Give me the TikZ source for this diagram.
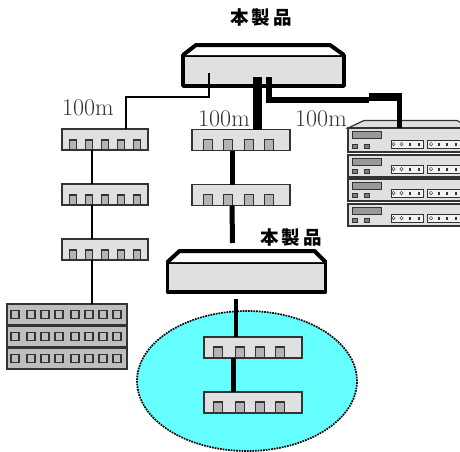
\documentclass[tikz,border=0pt]{standalone}
\usepackage{fontspec}
\usepackage{xcolor}
\usetikzlibrary{shapes.geometric, positioning}
\newfontfamily\cjk[LetterSpace=17]{Noto Sans CJK JP}
\definecolor{boxgray}{HTML}{E0E0E0}
\definecolor{portgray}{HTML}{B4B4B4}
\definecolor{rackgray}{HTML}{BEBEBE}
\definecolor{edgegray}{HTML}{333333}
\definecolor{langreen}{HTML}{66FFFF}

\begin{document}
\begin{tikzpicture}[
    x=1pt, y=-1pt,
    switchbox/.style={rectangle, draw=black, fill=boxgray, line width=3.5pt, line join=round, minimum width=158pt, minimum height=30pt, inner sep=0pt, outer sep=0pt},
    roof/.style={line width=4pt, line join=round, fill=white},
    hubwide/.style={rectangle, draw=edgegray, fill=boxgray, line width=1.2pt, minimum width=98pt, minimum height=21pt, inner sep=0pt, outer sep=0pt},
    hubslim/.style={hubwide, minimum width=86pt},
    portbox/.style={rectangle, draw=edgegray, fill=portgray, line width=1.2pt, minimum width=9.5pt, minimum height=11pt, inner sep=0pt, outer sep=0pt, anchor=south},
    portslim/.style={portbox, minimum width=7pt, minimum height=10pt},
    rackrow/.style={rectangle, draw=edgegray, fill=rackgray, line width=1.2pt, minimum width=120pt, minimum height=21pt, inner sep=0pt, outer sep=0pt},
    racksquare/.style={rectangle, draw=edgegray, fill=rackgray, line width=1.2pt, minimum width=8pt, minimum height=8pt, inner sep=0pt},
    serverrow/.style={rectangle, draw=edgegray, fill=boxgray, line width=1.2pt, minimum width=122pt, inner sep=0pt, outer sep=0pt},
    display/.style={rectangle, draw=edgegray, fill=gray!80, line width=1pt, minimum width=29pt, minimum height=7pt, inner sep=0pt},
    lamp/.style={rectangle, draw=edgegray, fill=gray, line width=.8pt, minimum width=5pt, minimum height=4pt, inner sep=0pt},
    panel/.style={rectangle, draw=edgegray, fill=white!90!gray, line width=1pt, minimum width=32pt, minimum height=8pt, inner sep=0pt},
    panelpin/.style={rectangle, fill=edgegray, minimum width=2pt, minimum height=3pt, inner sep=0pt},
    panelopen/.style={diamond, draw=edgegray, fill=white, line width=.5pt, minimum width=3.5pt, minimum height=3.5pt, inner sep=0pt},
    thinline/.style={line width=1.3pt, black},
    fatline/.style={line width=5pt, black},
    dist/.style={text=edgegray, font=\fontsize{24}{24}\selectfont, inner sep=0pt, anchor=base west},
    product/.style={font=\cjk\bfseries\fontsize{18.5}{18.5}\selectfont, inner sep=0pt}
]
\clip (0,0) rectangle (460,451);

% lan area
\node[ellipse, draw=black, fill=langreen, densely dotted, line width=1.7pt, minimum width=220pt, minimum height=140pt, inner sep=0pt] (lan) at (247,381) {};

% main units
\node[switchbox, minimum width=161pt, minimum height=31pt] (bigtop) at (263.5,70.5) {};
\draw[roof] (bigtop.north west) -- ++(13,-10) -- ++(134,0) -- (bigtop.north east);
\node[switchbox] (bigbot) at (246.5,277) {};
\draw[roof] (bigbot.north west) -- ++(12,-11) -- ++(135,0) -- (bigbot.north east);

\node[product] (nametop) at (261,17.5) {本製品};
\node[product] (namebot) at (291,237.5) {本製品};

% hubs
\node[hubslim, anchor=north west] (hubla) at (62,129) {};
\node[hubslim, below=34pt of hubla] (hublb) {};
\node[hubslim, below=34pt of hublb] (hublc) {};
\node[hubwide, anchor=north west] (hubma) at (192,129.5) {};
\node[hubwide, below=34pt of hubma] (hubmb) {};
\node[hubwide, anchor=north west] (hubba) at (204,337) {};
\node[hubwide, below=34pt of hubba] (hubbb) {};
\foreach \h in {hubla,hublb,hublc}
    \foreach \i/\dx in {1/11,2/27,3/43,4/59,5/75}
        \node[portslim] (\h-\i) at ([xshift=\dx pt]\h.south west) {};
\foreach \h in {hubma,hubmb}
    \foreach \i/\dx in {1/16,2/36,3/57,4/77}
        \node[portbox] (\h-\i) at ([xshift=\dx pt]\h.south west) {};
\foreach \h in {hubba,hubbb}
    \foreach \i/\dx in {1/14,2/36,3/56,4/76}
        \node[portbox] (\h-\i) at ([xshift=\dx pt]\h.south west) {};

% rack on the left
\foreach \i/\y in {1/314.5,2/336.5,3/358.5} {
    \node[rackrow] (rack\i) at (67,\y) {};
    \foreach \j/\x in {1/15,2/31,3/45,4/59,5/75,6/89,7/103,8/117}
        \node[racksquare] (rack\i-\j) at (\x,\y) {};
}

% servers on the right
\fill[boxgray, draw=edgegray, line width=1.2pt] (348,128) -- (364,120.5) -- (457,120.5) -- (470,128) -- cycle;
\foreach \i/\ya/\yb in {1/128/152,2/155/177,3/179/201,4/204/226} {
    \node[serverrow, minimum height={(\yb-\ya)*1pt}] (server\i) at (409,{(\ya+\yb)/2}) {};
    \node[display, anchor=north west] (display\i) at (352,{\ya+3}) {};
    \node[lamp] (lamp\i-1) at (355,{\yb-6}) {};
    \node[lamp] (lamp\i-2) at (366.5,{\yb-6}) {};
    \node[panel] (panel\i-1) at (407,{\yb-8}) {};
    \node[panel, minimum width=36pt] (panel\i-2) at (445,{\yb-8}) {};
    \foreach \j/\x in {1/393.5,2/401.5,5/431}
        \node[panelopen] (pin\i-\j) at (\x,{\yb-8}) {};
    \foreach \j/\x in {3/410,4/419,6/439,7/447,8/456}
        \node[panelpin] (pin\i-\j) at (\x,{\yb-8}) {};
}

% connectors
\coordinate (portl) at (209,73);
\coordinate (portc) at (257.5,77);
\coordinate (portr) at (269,77);
\coordinate (bendl) at (126,97);
\coordinate (bendr) at (369,99.5);
\coordinate (fatstart) at (369,96.5);
\coordinate (fatend) at (402,96.5);
\coordinate (drop) at (399.5,93);
\coordinate (midend) at (232.5,243);
\coordinate (stub) at (236,299);

\draw[thinline] (portl) |- (bendl) -- (bendl |- hubla.north);
\draw[thinline] ([xshift=-13pt]hubla.south) -- ([xshift=-13pt]hublb.north);
\draw[thinline] ([xshift=-13pt]hublb.south) -- ([xshift=-13pt]hublc.north);
\draw[thinline] ([xshift=-13pt]hublc.south) -- ([xshift=25pt]rack1.north);

\draw[black, line width=9pt] (portc) -- (portc |- hubma.north);
\draw[black, line width=6pt] (portr) |- (bendr);
\draw[black, line width=8pt] (fatstart) -- (fatend);
\draw[black, line width=5pt] (drop) -- (drop |- server1.north);
\draw[fatline] ([xshift=-9pt]hubma.south) -- ([xshift=-9pt]hubmb.north);
\draw[fatline] ([xshift=-9pt]hubmb.south) -- (midend);
\draw[black, line width=4pt] (stub) -- (stub |- hubba.north);
\draw[fatline] ([xshift=-20pt]hubba.south) -- ([xshift=-20pt]hubbb.north);

% distances
\node[dist] (distl) at (62,115) {100m};
\node[dist] (distm) at (198,126) {100m};
\node[dist] (distr) at (295,126) {100m};
\end{tikzpicture}
\end{document}
